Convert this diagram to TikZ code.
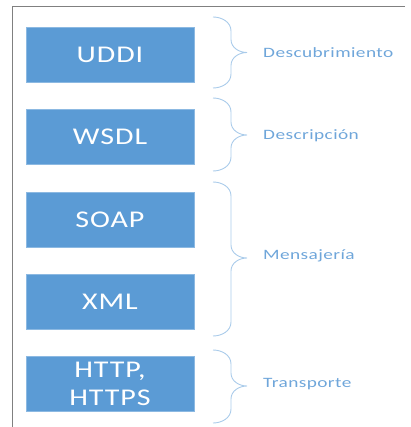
\documentclass[tikz,border=0pt]{standalone}
\usepackage{fontspec}
\setmainfont{Carlito}
\newfontfamily\boxfont[FakeStretch=1.25,LetterSpace=4]{Carlito}
\newfontfamily\labfont[FakeStretch=1.35,LetterSpace=3]{Carlito}
\definecolor{boxblue}{HTML}{5B9BD5}
\definecolor{labblue}{HTML}{6FA6DA}
\definecolor{braceblue}{HTML}{A9CBEA}
\definecolor{framegray}{HTML}{808080}
\tikzset{
  layerbox/.style={fill=boxblue, draw=boxblue!70!white, line width=0.6pt, minimum width=168pt, minimum height=55pt, inner sep=0pt, text=white, align=center, font=\boxfont\fontsize{24}{28}\selectfont},
  layerlabel/.style={anchor=west, inner sep=0pt, text=labblue, font=\labfont\fontsize{14.3}{16}\selectfont},
  bracestyle/.style={draw=braceblue, line width=0.9pt}
}
\begin{document}
\begin{tikzpicture}[x=1pt,y=-1pt]
\useasboundingbox (0,0) rectangle (410,427);
\draw[framegray, line width=0.9pt] (405,6) -- (12,6) -- (12,427);
\node[layerbox] (uddi) at (110,54.5) {UDDI};
\node[layerbox] (wsdl) at (110,136.5) {WSDL};
\node[layerbox] (soap) at (110,219.5) {SOAP};
\node[layerbox] (xml) at (110,302) {XML};
\node[layerbox] (http) at (110,384) {HTTP,\\HTTPS};
\node[layerlabel] (l1) at (263,53) {Descubrimiento};
\node[layerlabel] (l2) at (263,136) {Descripción};
\node[layerlabel] (l3) at (263,256) {Mensajería};
\node[layerlabel] (l4) at (263,384) {Transporte};
% braces
\foreach \ya/\ym/\yb in {17/52.5/88, 98/135/171, 182/258/336, 350/386/423}{
  \draw[bracestyle] (213,\ya) to[out=0,in=90] (231,\ya+14) -- (231,\ym-13) to[out=-90,in=180] (247,\ym)
     to[out=180,in=90] (231,\ym+13) -- (231,\yb-14) to[out=-90,in=0] (213,\yb);
}
\end{tikzpicture}
\end{document}
